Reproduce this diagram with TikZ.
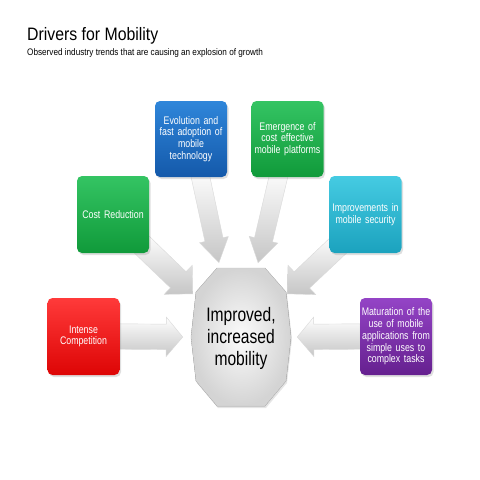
\documentclass[tikz,border=0pt]{standalone}
\usepackage{fontspec}
\setmainfont{Liberation Sans}
\newfontfamily\narrowfont[FakeStretch=0.8,WordSpace=0.65]{Liberation Sans}
\newfontfamily\subfont[FakeStretch=0.86]{Liberation Sans}
\newfontfamily\titlefont[FakeStretch=0.88]{Liberation Sans}
\usetikzlibrary{shapes.arrows,shadows,calc}
\pgfdeclarelayer{bg}
\pgfsetlayers{bg,main}
\definecolor{redA}{HTML}{FF3A3A}\definecolor{redB}{HTML}{DD0505}
\definecolor{grnA}{HTML}{34C463}\definecolor{grnB}{HTML}{109A3A}
\definecolor{bluA}{HTML}{2F86DA}\definecolor{bluB}{HTML}{1459AA}
\definecolor{tealA}{HTML}{45CBE2}\definecolor{tealB}{HTML}{1BA2BE}
\definecolor{purA}{HTML}{9444C6}\definecolor{purB}{HTML}{65208F}
\tikzset{
  box/.style={rounded corners=5pt, minimum width=72pt, minimum height=77pt,
    text width=70pt, align=center, text=white, inner sep=1pt,
    font=\narrowfont\fontsize{11}{11.7}\selectfont,
    drop shadow={opacity=0.25, shadow xshift=1.5pt, shadow yshift=-2pt}},
  barrow/.style={single arrow, sloped, allow upside down, anchor=tip,
    inner xsep=0pt, text height=0pt, text depth=0pt, minimum width=0pt,
    top color=white, bottom color=gray!45, draw=gray!30, line width=0.4pt},
  wide/.style={barrow, inner ysep=12.5pt, single arrow head extend=7pt, single arrow tip angle=100},
  diag/.style={barrow, inner ysep=11pt, single arrow head extend=9pt, single arrow tip angle=90},
  tall/.style={barrow, inner ysep=9pt, single arrow head extend=5.5pt, single arrow tip angle=64},
}
\newcommand\blockarrow[3]{%
  \path let \p1=($(#3)-(#2)$), \n1={veclen(\x1,\y1)} in
    (#2) -- node[#1, pos=1, minimum height=\n1] {} (#3);}
\begin{document}
\begin{tikzpicture}[x=1pt,y=-1pt]
\useasboundingbox (0,0) rectangle (480,480);

\node[anchor=base west, inner sep=0pt] (title) at (27,40)
  {\titlefont\fontsize{18}{20}\selectfont Drivers for Mobility};
\node[anchor=base west, inner sep=0pt] (sub) at (27,55)
  {\subfont\fontsize{9.5}{11}\selectfont Observed industry trends that are causing an explosion of growth};

% centre shape
\coordinate (c0) at (241,337);
\fill[shading=radial, inner color=gray!3, outer color=gray!34, draw=gray!45,
      drop shadow={opacity=0.2, shadow xshift=1pt, shadow yshift=-2pt}]
  ($(c0)+(-24,-69)$) -- ($(c0)+(24,-69)$) -- ($(c0)+(45,-45)$) -- ($(c0)+(50,0)$)
  -- ($(c0)+(45,44)$) -- ($(c0)+(24,69)$) -- ($(c0)+(-24,69)$) -- ($(c0)+(-45,44)$)
  -- ($(c0)+(-50,0)$) -- ($(c0)+(-45,-45)$) -- cycle;
\node[align=center, inner sep=0pt, font=\narrowfont\fontsize{19.5}{22}\selectfont] (ctr) at (241,338)
  {Improved,\\increased\\mobility};

% boxes
\node[box, top color=redA, bottom color=redB] (comp) at (83.5,336.5) {Intense\\Competition};
\node[box, top color=grnA, bottom color=grnB] (cost) at (113,214.5) {Cost Reduction};
\node[box, top color=bluA, bottom color=bluB, minimum height=76pt] (evol) at (191,139)
  {Evolution and\\fast adoption of\\mobile\\technology};
\node[box, top color=grnA, bottom color=grnB, minimum height=76pt] (emer) at (287.5,139)
  {Emergence of\\cost effective\\mobile platforms};
\node[box, top color=tealA, bottom color=tealB] (impr) at (365.5,214.5)
  {Improvements in\\mobile security};
\node[box, top color=purA, bottom color=purB] (matu) at (396,336.5)
  {Maturation of the\\use of mobile\\applications from\\simple uses to\\complex tasks};

% arrow ends
\coordinate (s1) at (comp.east);      \coordinate (t1) at (183,337);
\coordinate (s2) at (matu.west);      \coordinate (t2) at (297,337);
\coordinate (s3) at (138,241);        \coordinate (t3) at (193,294);
\coordinate (s4) at (199,170);        \coordinate (t4) at (219,263);
\coordinate (s5) at (280,170);        \coordinate (t5) at (258,263);
\coordinate (s6) at (343,241);        \coordinate (t6) at (287,294);

\begin{pgfonlayer}{bg}
\fill[white] (0,0) rectangle (480,480);
\blockarrow{wide}{s1}{t1}
\blockarrow{wide}{s2}{t2}
\blockarrow{diag}{s3}{t3}
\blockarrow{tall}{s4}{t4}
\blockarrow{tall}{s5}{t5}
\blockarrow{diag}{s6}{t6}
\end{pgfonlayer}
\end{tikzpicture}
\end{document}
